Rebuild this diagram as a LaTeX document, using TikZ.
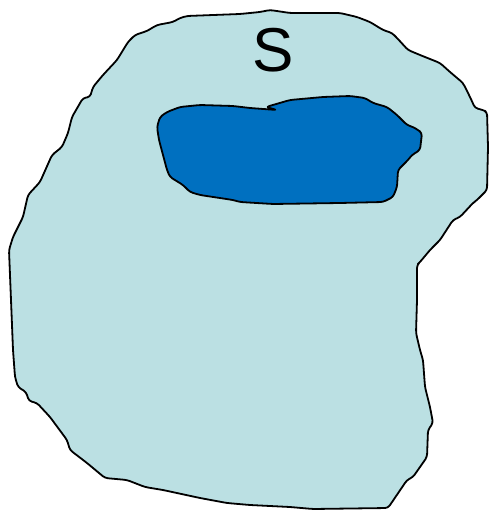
\documentclass[tikz,border=0pt]{standalone}
\usepackage{fontspec}
\setmainfont{Liberation Sans}
\definecolor{setfill}{RGB}{187,224,227}
\definecolor{subfill}{RGB}{0,112,192}
\usetikzlibrary{positioning}
\tikzset{
  region/.style={draw=black,line width=1.8pt,line join=round,rounded corners=3pt},
  setlabel/.style={font=\fontsize{62}{62}\selectfont,inner sep=0pt},
}
\begin{document}
\begin{tikzpicture}[x=1pt,y=-1pt]
        \useasboundingbox (0,0) rectangle (491,510);
        % outer set
        \path[region,fill=setfill] (187,16) -- (180,18) -- (173,22) -- (157,25) -- (147,31)
            -- (135,35) -- (128,42) -- (117,60) -- (103,75) -- (93,87) -- (90,97) -- (83,98)
            -- (72,117) -- (68,133) -- (62,147) -- (52,155) -- (40,182) -- (28,195) -- (23,217)
            -- (13,237) -- (9,250) -- (13,350) -- (15,377) -- (18,387) -- (26,392) -- (29,401)
            -- (37,403) -- (50,417) -- (67,440) -- (70,450) -- (87,463) -- (105,478) -- (127,480)
            -- (145,487) -- (163,490) -- (200,498) -- (227,503) -- (250,505) -- (290,507)
            -- (313,509) -- (388,508) -- (407,480) -- (413,477) -- (427,457) -- (428,430)
            -- (433,423) -- (430,407) -- (425,387) -- (423,360) -- (420,350) -- (416,333)
            -- (417,300) -- (417,265) -- (420,262) -- (430,250) -- (440,240) -- (453,220)
            -- (460,217) -- (473,203) -- (477,200) -- (487,190) -- (488,147) -- (487,112)
            -- (483,110) -- (475,108) -- (470,97) -- (463,83) -- (450,72) -- (440,63)
            -- (420,55) -- (408,50) -- (397,38) -- (392,33) -- (383,30) -- (370,22) -- (357,17)
            -- (340,13) -- (323,13) -- (290,13) -- (270,10) -- (260,12) -- (240,14) -- cycle;
        % inner subset
        \path[region,fill=subfill] (250,108) -- (233,106) -- (200,105) -- (180,107) -- (167,112)
            -- (160,117) -- (157,127) -- (159,140) -- (167,170) -- (170,177) -- (183,185)
            -- (190,192) -- (200,195) -- (233,200) -- (240,202) -- (273,204) -- (340,203)
            -- (383,202) -- (393,197) -- (397,187) -- (398,170) -- (403,165) -- (408,160)
            -- (412,155) -- (420,150) -- (422,133) -- (418,130) -- (413,127) -- (407,125)
            -- (397,115) -- (387,107) -- (373,103) -- (365,98) -- (350,96) -- (323,97)
            -- (290,100) -- (266,107) -- (277,110) -- cycle;
        \node[setlabel] (lbl) at (273,50) {S};
\end{tikzpicture}
\end{document}
